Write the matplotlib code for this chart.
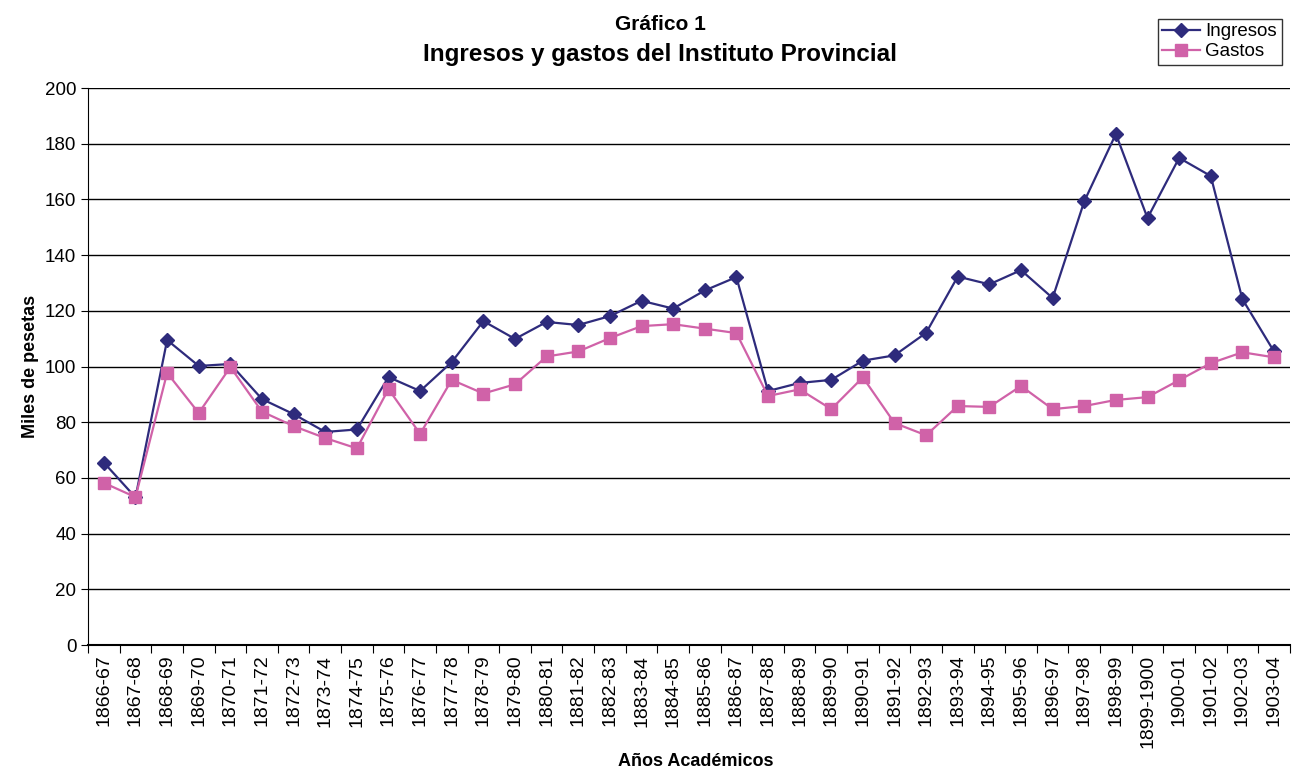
import matplotlib.pyplot as plt
import numpy as np

plt.rcParams['font.family'] = ['Liberation Sans', 'DejaVu Sans']

# datos (miles de pesetas)
cursos = ["1866-67", "1867-68", "1868-69", "1869-70", "1870-71", "1871-72", "1872-73",
          "1873-74", "1874-75", "1875-76", "1876-77", "1877-78", "1878-79", "1879-80",
          "1880-81", "1881-82", "1882-83", "1883-84", "1884-85", "1885-86", "1886-87",
          "1887-88", "1888-89", "1889-90", "1890-91", "1891-92", "1892-93", "1893-94",
          "1894-95", "1895-96", "1896-97", "1897-98", "1898-99", "1899-1900", "1900-01",
          "1901-02", "1902-03", "1903-04"]

ingresos = [65.5, 53, 109.5, 100.2, 100.9, 88.3, 82.9, 76.5, 77.4, 96.2, 91.2, 101.6,
            116.3, 109.9, 116, 114.9, 118.1, 123.6, 120.8, 127.3, 132.1, 91.2, 94.1,
            95.2, 102.1, 104, 112.1, 132.3, 129.5, 134.6, 124.6, 159.3, 183.5, 153.3,
            174.9, 168.4, 124.2, 105.4]

gastos = [58.2, 53.1, 97.7, 83.3, 99.8, 83.8, 78.6, 74.3, 70.6, 91.9, 75.8, 95.2,
          90.3, 93.6, 103.6, 105.4, 110.2, 114.5, 115.2, 113.6, 112, 89.4, 91.8, 84.7,
          96.1, 79.7, 75.3, 85.8, 85.5, 93, 84.7, 85.8, 88, 89, 95.1, 101.2, 105.1, 103.3]

x = np.arange(len(cursos))

fig = plt.figure(figsize=(12.95, 7.72), dpi=100)
ax = fig.add_axes([0.068, 0.1645, 0.928, 0.7215])

ax.plot(x, ingresos, color="#2E2B7C", marker="D", markersize=7, lw=1.6, label="Ingresos")
ax.plot(x, gastos, color="#D062A8", marker="s", markersize=8, lw=1.6, label="Gastos")

ax.set_xlim(-0.5, len(cursos) - 0.5)
ax.set_ylim(0, 200)
ax.set_yticks(np.arange(0, 201, 20))
ax.yaxis.grid(True, color="black", lw=1)
ax.set_axisbelow(True)

# marcas entre categorías, etiquetas centradas
ax.set_xticks(np.arange(-0.5, len(cursos), 1))
ax.set_xticklabels([])
ax.set_xticks(x, minor=True)
ax.set_xticklabels(cursos, minor=True, rotation=90, fontsize=14)
ax.tick_params(axis="x", which="major", length=6, direction="out", color="black")
ax.tick_params(axis="x", which="minor", length=0, pad=7)
ax.tick_params(axis="y", length=5, labelsize=13.5, direction="out")

for s in ["top", "right"]:
    ax.spines[s].set_visible(False)
ax.spines["left"].set_color("black")
ax.spines["bottom"].set_color("black")
ax.spines["bottom"].set_linewidth(1.5)

ax.set_ylabel("Miles de pesetas", fontsize=13, fontweight="bold", labelpad=4)
fig.text(0.537, 0.008, "Años Académicos", ha="center", fontsize=13, fontweight="bold")

fig.text(0.51, 0.968, "Gráfico 1", ha="center", va="center", fontsize=15, fontweight="bold")
fig.text(0.51, 0.929, "Ingresos y gastos del Instituto Provincial", ha="center", va="center",
         fontsize=17.5, fontweight="bold")

leg = fig.legend(loc="upper right", bbox_to_anchor=(0.997, 0.988), fontsize=13.5,
                 frameon=True, fancybox=False, edgecolor="black", borderpad=0.25,
                 handlelength=2.0, labelspacing=0.15, handletextpad=0.3)
leg.get_frame().set_linewidth(1)

fig.savefig("out.png", dpi=100)
